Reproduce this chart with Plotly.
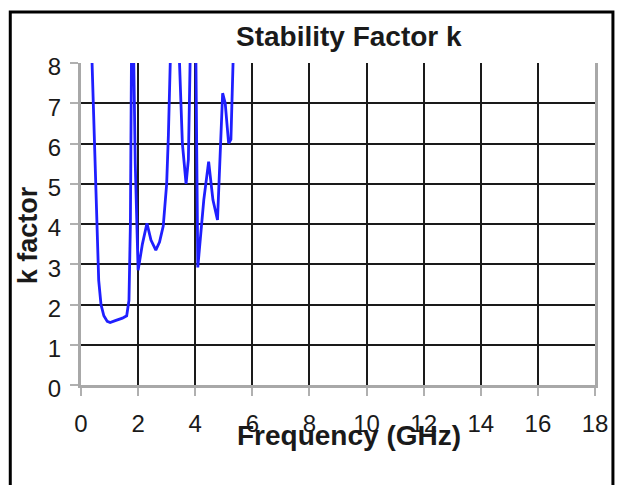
import plotly.graph_objects as go

freq_ghz = [0.37, 0.55, 0.62, 0.70, 0.80, 0.92, 1.02, 1.20, 1.45, 1.60, 1.68, 1.73, 1.77,
            1.84, 1.90, 2.00, 2.15, 2.31, 2.45, 2.62, 2.75, 2.88, 3.00, 3.06, 3.14,
            3.43, 3.55, 3.68, 3.76, 3.83, 4.02, 4.09, 4.30, 4.47, 4.62, 4.78, 4.88,
            4.96, 5.05, 5.17, 5.25, 5.34]
k_factor = [8.4, 4.6, 2.6, 2.0, 1.72, 1.58, 1.55, 1.60, 1.66, 1.72, 2.1, 4.0, 8.4,
            8.4, 5.5, 2.85, 3.5, 4.02, 3.6, 3.35, 3.55, 3.95, 5.0, 6.2, 8.4,
            8.4, 6.0, 5.0, 5.6, 8.4, 8.4, 2.92, 4.6, 5.55, 4.6, 4.1, 5.8,
            7.25, 7.0, 6.0, 6.1, 8.4]

x_ticks = [0, 2, 4, 6, 8, 10, 12, 14, 16, 18]
y_ticks = [0, 1, 2, 3, 4, 5, 6, 7, 8]

title_text = "Stability Factor k"
x_title = "Frequency (GHz)"
y_title = "k factor"

W, H = 620, 485
L, R, T, B = 81, 23, 63, 100
pw, ph = W - L - R, H - T - B

def px(xp):
    return (xp - L) / pw

def py(yp):
    return (H - B - yp) / ph

font = "Liberation Sans, Arial, sans-serif"

fig = go.Figure()
fig.add_trace(go.Scatter(x=freq_ghz, y=k_factor, mode="lines",
                         line=dict(color="#1f1fff", width=2.8), showlegend=False))

fig.update_layout(
    width=W, height=H,
    margin=dict(l=L, r=R, t=T, b=B, pad=0),
    paper_bgcolor="white", plot_bgcolor="white",
    font=dict(family=font, color="#1a1a1a"),
    xaxis=dict(range=[0, 18], tickvals=x_ticks, showgrid=True, gridcolor="#1a1a1a",
               gridwidth=1.5, zeroline=False, showline=True, linecolor="#a8a8a8",
               linewidth=3, ticks="outside", ticklen=8, tickwidth=2, tickcolor="#b0b0b0",
               ticklabelstandoff=7,
               tickfont=dict(size=24, color="#1a1a1a"), fixedrange=True),
    yaxis=dict(range=[0, 8], tickvals=y_ticks, showgrid=True, gridcolor="#1a1a1a",
               gridwidth=1.5, zeroline=False, showline=True, mirror=True,
               linecolor="#a8a8a8", linewidth=3, ticks="outside", ticklen=8,
               tickwidth=2, tickcolor="#b0b0b0", ticklabelstandoff=4,
               ticklabelshift=4,
               tickfont=dict(size=24, color="#1a1a1a"), fixedrange=True),
    shapes=[dict(type="rect", xref="paper", yref="paper",
                 x0=px(10), x1=px(615), y0=py(520), y1=py(12),
                 line=dict(color="black", width=3), fillcolor="rgba(0,0,0,0)",
                 layer="below")],
    annotations=[
        dict(text="<b>%s</b>" % title_text, xref="paper", yref="paper",
             x=px(350), y=py(36), xanchor="center", yanchor="middle",
             showarrow=False, font=dict(size=28, color="#1a1a1a")),
        dict(text="<b>%s</b>" % x_title, xref="paper", yref="paper",
             x=px(350), y=py(435), xanchor="center", yanchor="middle",
             showarrow=False, font=dict(size=28, color="#1a1a1a")),
        dict(text="<b>%s</b>" % y_title, xref="paper", yref="paper",
             x=px(28), y=py(235), xanchor="center", yanchor="middle",
             textangle=-90, showarrow=False, font=dict(size=27, color="#1a1a1a")),
    ],
)

fig.write_html("out.html", config={"displayModeBar": False},
               post_script="document.body.style.margin='0';document.body.style.overflow='hidden';")
